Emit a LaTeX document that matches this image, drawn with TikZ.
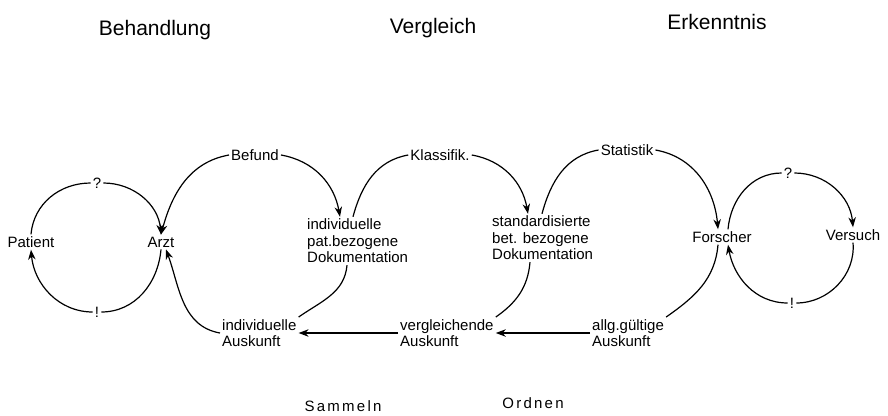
\documentclass[tikz,border=0pt]{standalone}
\usepackage{fontspec}
\setmainfont{Liberation Sans}
\newfontfamily\spacedfont[LetterSpace=15]{Liberation Sans}
\usetikzlibrary{arrows.meta,calc}
\begin{document}
\begin{tikzpicture}[x=1pt,y=1pt,
  lbl/.style={font=\fontsize{15}{16.5}\selectfont, inner sep=2pt},
  blk/.style={lbl, align=left, anchor=west},
  ttl/.style={font=\fontsize{21}{24}\selectfont},
  foot/.style={font=\spacedfont\fontsize{15}{17}\selectfont},
  link/.style={line width=1.2pt},
  arr/.style={link, -{Stealth[length=10pt,width=7.5pt]}},
]
\useasboundingbox (0,0) rectangle (888,-415);

% titles
\node[ttl] (t1) at (155,-30) {Behandlung};
\node[ttl] (t2) at (433,-28) {Vergleich};
\node[ttl] (t3) at (717,-22) {Erkenntnis};

% nodes
\node[lbl] (pat) at (31,-242) {Patient};
\node[lbl] (arzt) at (161,-242) {Arzt};
\node[lbl] (q1) at (97,-183) {?};
\node[lbl] (e1) at (97,-312) {!};
\node[lbl] (bef) at (255,-155) {Befund};
\node[blk] (doc1) at (305,-241) {individuelle\\pat.bezogene\\Dokumentation};
\node[lbl] (kla) at (440,-155) {Klassifik.};
\node[blk] (doc2) at (490,-238) {standardisierte\\bet. bezogene\\Dokumentation};
\node[lbl] (sta) at (627,-150) {Statistik};
\node[lbl] (for) at (722,-237) {Forscher};
\node[lbl] (ver) at (853,-235) {Versuch};
\node[lbl] (q2) at (788,-173) {?};
\node[lbl] (e2) at (792,-303) {!};
\node[blk] (au1) at (220,-333) {individuelle\\Auskunft};
\node[blk] (au2) at (398,-333) {vergleichende\\Auskunft};
\node[blk] (au3) at (590,-333) {allg.gültige\\Auskunft};
\node[foot] (sam) at (343,-406) {Sammeln};
\node[foot] (ord) at (533,-403) {Ordnen};

% left circle
\draw[link] (pat.north) to[out=85,in=180] (q1.west);
\draw[arr] (q1.east) to[out=0,in=95] (arzt.north);
\draw[link] (arzt.south) to[out=-95,in=0] (e1.east);
\draw[arr] (e1.west) to[out=180,in=-85] (pat.south);

% second circle
\draw[arr] (bef.west) to[out=190,in=75] (arzt.north);
\draw[arr] (bef.east) to[out=-10,in=100] ($(doc1.north west)+(35,0)$);
\draw[link] ($(doc1.south west)+(42,0)$) to[out=-95,in=35] (au1.north east);
\draw[arr] (au1.west) to[out=170,in=-70] ($(arzt.south)+(5,0)$);

% third circle
\draw[link] (kla.west) to[out=190,in=75] ($(doc1.north west)+(48,0)$);
\draw[arr] (kla.east) to[out=-10,in=100] ($(doc2.north west)+(38,0)$);
\draw[link] ($(doc2.south west)+(40,0)$) to[out=-95,in=35] (au2.north east);

% fourth circle
\draw[link] (sta.west) to[out=190,in=75] ($(doc2.north west)+(52,0)$);
\draw[arr] (sta.east) to[out=-10,in=95] ($(for.north)+(-4,0)$);
\draw[link] ($(for.south)+(-4,0)$) to[out=-95,in=35] (au3.north east);

% right circle
\draw[link] ($(for.north)+(6,0)$) to[out=85,in=180] (q2.west);
\draw[arr] (q2.east) to[out=0,in=95] (ver.north);
\draw[link] (ver.south) to[out=-85,in=0] (e2.east);
\draw[arr] (e2.west) to[out=180,in=-80] ($(for.south)+(6,0)$);

% horizontal arrows
\draw[arr] (au2.west) -- (au1.east);
\draw[arr] (au3.west) -- (au2.east);
\end{tikzpicture}
\end{document}
